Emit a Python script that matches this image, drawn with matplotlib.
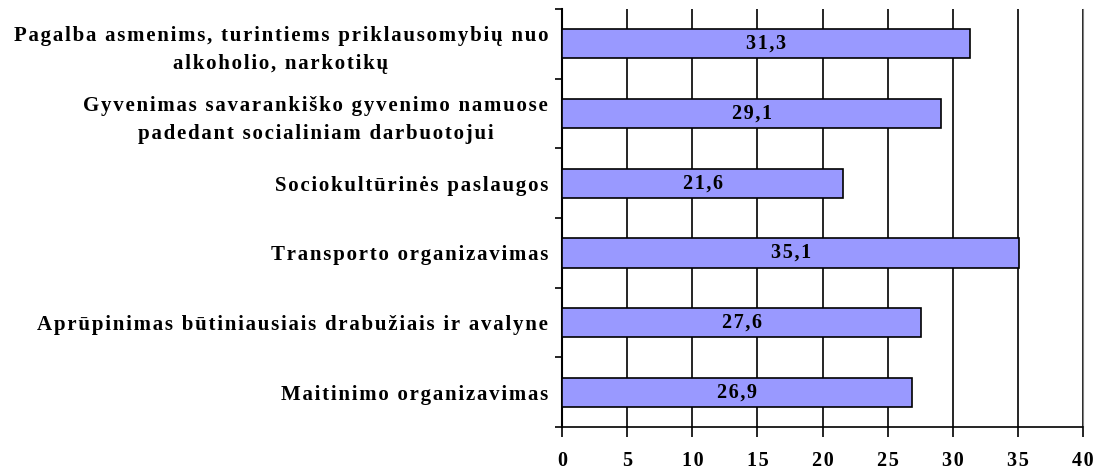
import numpy as np
import matplotlib.pyplot as plt

# categories (top to bottom) and values
categories = [
    'Pagalba asmenims, turintiems priklausomybių nuo\nalkoholio, narkotikų',
    'Gyvenimas savarankiško gyvenimo namuose\npadedant socialiniam darbuotojui',
    'Sociokultūrinės paslaugos',
    'Transporto organizavimas',
    'Aprūpinimas būtiniausiais drabužiais ir avalyne',
    'Maitinimo organizavimas',
]
values = [31.3, 29.1, 21.6, 35.1, 27.6, 26.9]
xticks = [0, 5, 10, 15, 20, 25, 30, 35, 40]


def spaced(s):
    # the original text is letter-spaced; imitate with hair spaces
    return '\n'.join('\u200a'.join(line) for line in s.split('\n'))


plt.rcParams['font.family'] = ['Liberation Serif', 'DejaVu Serif']
plt.rcParams['font.weight'] = 'bold'

fig = plt.figure(figsize=(11, 4.74), dpi=100)
ax = fig.add_axes([0.511, 0.099, 0.4735, 0.882])

n = len(categories)
y = np.arange(n)[::-1]
ax.barh(y, values, height=0.42, color='#9999FF', edgecolor='black', linewidth=1.2, zorder=3)

for yi, v in zip(y, values):
    ax.text(v / 2, yi, spaced(f'{v:.1f}'.replace('.', ',')), ha='center', va='center',
            fontsize=14.5, fontweight='bold', zorder=4)

ax.set_xlim(0, 40)
ax.set_ylim(-0.5, n - 0.5)
ax.set_xticks(xticks)
ax.set_xticklabels([spaced(str(t)) for t in xticks], fontsize=14.5, fontweight='bold')
ax.set_yticks(y)
ax.set_yticklabels([spaced(c) for c in categories], fontsize=15, fontweight='bold',
                   multialignment='center', linespacing=1.5)
ax.set_yticks(np.arange(-0.5, n, 1.0), minor=True)
ax.tick_params(axis='y', which='major', length=0, pad=10)
ax.tick_params(axis='y', which='minor', length=5, width=1.2, direction='out')
ax.tick_params(axis='x', length=7, width=1.2, direction='out', pad=10)

ax.grid(axis='x', color='black', linewidth=1.2, zorder=0)
ax.spines['top'].set_visible(False)
ax.spines['right'].set_color('#808080')
ax.spines['left'].set_linewidth(1.5)
ax.spines['bottom'].set_linewidth(1.2)

plt.savefig('out.png', dpi=100)
